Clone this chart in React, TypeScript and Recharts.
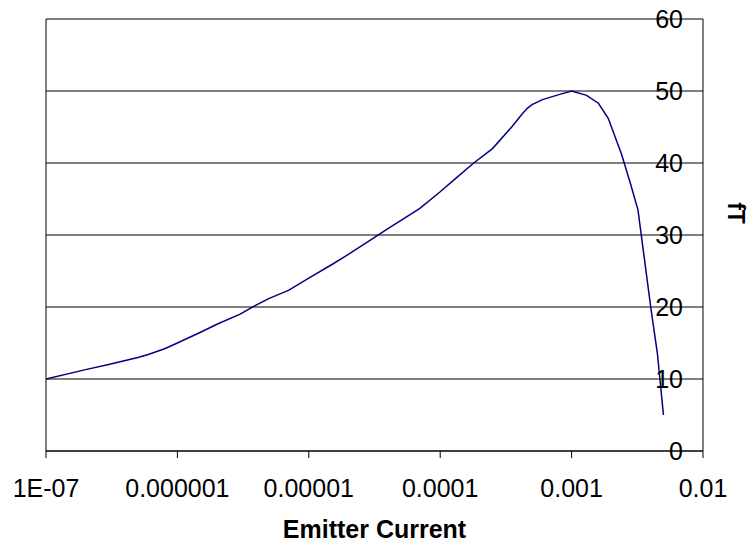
import { LineChart, Line, XAxis, YAxis, CartesianGrid, ReferenceLine } from "recharts";

// emitter current (A) and measured fT
const currents = [
  1e-7, 2e-7, 3e-7, 5e-7, 6e-7, 8e-7,
  1e-6, 1.5e-6, 2e-6, 3e-6, 4e-6, 5e-6, 7e-6,
  1e-5, 1.5e-5, 2e-5, 3e-5, 4e-5, 5e-5, 7e-5,
  1e-4, 1.3e-4, 1.8e-4, 2.5e-4, 3.5e-4, 4.2e-4, 4.6e-4, 5e-4, 6e-4, 8e-4,
  1e-3, 1.3e-3, 1.6e-3, 1.9e-3, 2.4e-3, 2.8e-3, 3.2e-3, 4e-3, 4.5e-3, 5e-3,
];
const fT = [
  10, 11.3, 12.0, 13.0, 13.4, 14.2,
  15.0, 16.5, 17.6, 19.0, 20.3, 21.2, 22.3,
  24.0, 25.9, 27.3, 29.4, 30.9, 32.0, 33.7,
  36.0, 37.8, 40.0, 42.0, 45.0, 46.8, 47.6, 48.1, 48.8, 49.5,
  50.0, 49.4, 48.3, 46.2, 41.2, 37.2, 33.5, 20.0, 13.5, 5.0,
];

const xTicks = [1e-7, 1e-6, 1e-5, 1e-4, 1e-3, 1e-2];
const xTickLabels = ["1E-07", "0.000001", "0.00001", "0.0001", "0.001", "0.01"];
const yTicks = [0, 10, 20, 30, 40, 50, 60];

const data = currents.map((c, i) => ({ current: c, fT: fT[i] }));

const renderYTick = (props: any) => {
  const { x, y, payload } = props;
  return (
    <text x={x - 20} y={y} dy="0.355em" textAnchor="end" fontSize={25} fill="#000">
      {payload.value}
    </text>
  );
};

const renderFtLabel = (props: any) => {
  const vb = props.viewBox || { x: 703, y: 19, width: 0, height: 432 };
  const cx = vb.x + vb.width + 32;
  const cy = vb.y + vb.height / 2 - 22;
  return (
    <text
      x={cx}
      y={cy}
      transform={`rotate(90, ${cx}, ${cy})`}
      textAnchor="middle"
      dy="0.355em"
      fontSize={23}
      fontWeight="bold"
      fill="#000"
    >
      fT
    </text>
  );
};

export default function App() {
  return (
    <div
      style={{
        position: "absolute",
        left: 0,
        top: 0,
        background: "#fff",
        fontFamily: "'Liberation Sans', Arial, sans-serif",
      }}
    >
      <LineChart width={749} height={544} data={data} margin={{ top: 19, right: 45, left: 46, bottom: 36 }}>
        <CartesianGrid vertical={false} stroke="#000" />
        <XAxis
          dataKey="current"
          type="number"
          scale="log"
          domain={[1e-7, 1e-2]}
          ticks={xTicks}
          interval={0}
          allowDataOverflow
          tickFormatter={(v: number) => xTickLabels[xTicks.indexOf(v)] ?? String(v)}
          tick={{ fontSize: 25, fill: "#000" }}
          axisLine={{ stroke: "#000" }}
          tickLine={{ stroke: "#000" }}
          tickSize={7}
          tickMargin={21}
          height={57}
          label={{
            value: "Emitter Current",
            position: "bottom",
            offset: 12,
            style: { fontSize: 25, fontWeight: "bold", fill: "#000" },
          }}
        />
        <YAxis
          orientation="right"
          type="number"
          domain={[0, 60]}
          ticks={yTicks}
          interval={0}
          width={1}
          tickSize={0}
          tickMargin={0}
          tickLine={false}
          axisLine={{ stroke: "#000" }}
          tick={renderYTick}
          label={{ content: renderFtLabel }}
        />
        <ReferenceLine x={1e-7} stroke="#000" />
        <Line
          type="linear"
          dataKey="fT"
          stroke="#000080"
          strokeWidth={1.5}
          dot={false}
          isAnimationActive={false}
        />
      </LineChart>
    </div>
  );
}
